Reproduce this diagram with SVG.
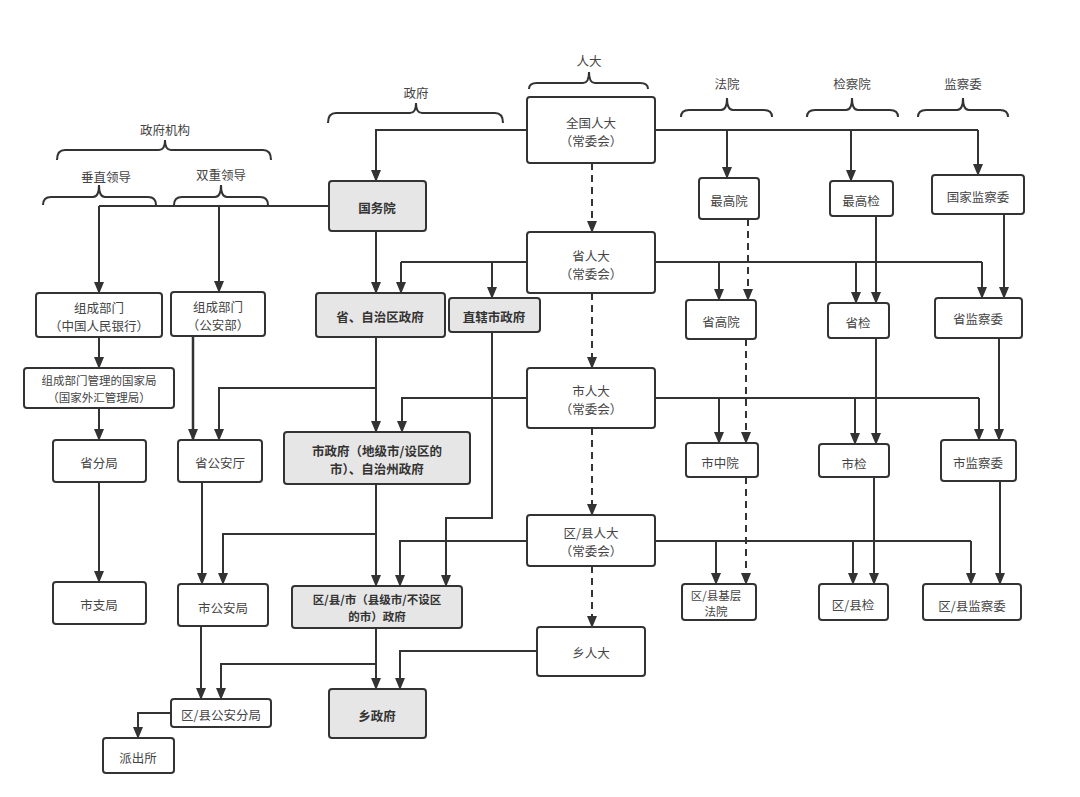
<svg xmlns="http://www.w3.org/2000/svg" width="1080" height="797" viewBox="0 0 1080 797">
<defs>
<marker id="ah" markerUnits="userSpaceOnUse" markerWidth="12" markerHeight="12" viewBox="0 0 12 12" refX="11" refY="6" orient="auto"><path d="M0,1 L12,6 L0,11 Z" fill="#333"/></marker>
</defs>
<style>
text{font-family:"Noto Sans CJK SC","Liberation Sans",sans-serif;font-size:12.5px;fill:#444;text-anchor:middle;dominant-baseline:central}
.s{font-size:11.5px}
.b{fill:#fff;stroke:#333;stroke-width:2}
.g{fill:#e6e6e6;stroke:#333;stroke-width:2}
.gt{font-weight:bold;fill:#333}
.c path{fill:none;stroke:#333;stroke-width:2}
.c path.a{marker-end:url(#ah)}
.c path.d{stroke-dasharray:7,5;marker-end:url(#ah)}
.br{fill:none;stroke:#333;stroke-width:2}
</style>
<rect width="1080" height="797" fill="#fff"/>
<g id="braces">
<path class="br" d="M57,160 Q57,150 65,150 L159,150 Q165,150 165,140 Q165,150 171,150 L263,150 Q271,150 271,160"/><text x="165" y="129">政府机构</text>
<path class="br" d="M43,205 Q43,197 51,197 L93,197 Q99,197 99,185 Q99,197 105,197 L148,197 Q156,197 156,205"/><text x="106" y="176">垂直领导</text>
<path class="br" d="M174,205 Q174,197 182,197 L215,197 Q221,197 221,185 Q221,197 227,197 L260,197 Q268,197 268,205"/><text x="221" y="174">双重领导</text>
<path class="br" d="M328,123 Q328,113 336,113 L410,113 Q416,113 416,103 Q416,113 422,113 L495,113 Q503,113 503,123"/><text x="416" y="92">政府</text>
<path class="br" d="M529,89 Q529,83 537,83 L583,83 Q589,83 589,72 Q589,83 595,83 L640,83 Q648,83 648,89"/><text x="589" y="60">人大</text>
<path class="br" d="M681,117 Q681,110 689,110 L721,110 Q727,110 727,98 Q727,110 733,110 L764,110 Q772,110 772,117"/><text x="727" y="83">法院</text>
<path class="br" d="M807,117 Q807,110 815,110 L846,110 Q852,110 852,98 Q852,110 858,110 L890,110 Q898,110 898,117"/><text x="852" y="83">检察院</text>
<path class="br" d="M918,117 Q918,110 926,110 L957,110 Q963,110 963,98 Q963,110 969,110 L1000,110 Q1008,110 1008,117"/><text x="963" y="83">监察委</text>
</g>
<g class="c" id="connectors">
<path class="a" d="M527,130 H376 V181"/>
<path d="M655,130 H978"/>
<path class="a" d="M727,130 V178"/><path class="a" d="M851,130 V181"/><path class="a" d="M978,130 V175"/>
<path class="d" d="M592,163 V232"/>
<path d="M329,206 H99"/>
<path class="a" d="M99,206 V293"/><path class="a" d="M219,206 V292"/>
<path class="a" d="M376,231 V293"/>
<path d="M527,262 H401"/><path class="a" d="M401,262 V293"/><path class="a" d="M492,262 V298"/>
<path d="M655,262 H982"/>
<path class="a" d="M719,262 V300"/><path class="a" d="M856,262 V303"/><path class="a" d="M982,262 V298"/>
<path class="d" d="M748,219 V300"/>
<path class="a" d="M876,216 V303"/>
<path class="a" d="M1004,214 V298"/>
<path class="d" d="M592,293 V368"/>
<path class="a" d="M99,337 V368"/>
<path class="a" d="M99,408 V440"/>
<path class="a" d="M193,336 V440" style="stroke-width:2.5"/>
<path class="a" d="M376,337 V432"/>
<path class="a" d="M376,388 H219 V440"/>
<path class="a" d="M527,398 H402 V432"/>
<path d="M655,398 H979"/>
<path class="a" d="M719,398 V443"/><path class="a" d="M855,398 V444"/><path class="a" d="M979,398 V440"/>
<path class="d" d="M746,339 V443"/>
<path class="a" d="M876,338 V444"/>
<path class="a" d="M999,338 V440"/>
<path class="d" d="M592,428 V515"/>
<path class="a" d="M492,332 V518 H446 V586"/>
<path class="a" d="M99,482 V582"/>
<path class="a" d="M202,482 V584"/>
<path class="a" d="M376,484 V586"/>
<path class="a" d="M376,534 H223 V584"/>
<path class="a" d="M527,541 H400 V586"/>
<path d="M655,541 H971"/>
<path class="a" d="M716,541 V584"/><path class="a" d="M853,541 V584"/><path class="a" d="M971,541 V584"/>
<path class="d" d="M746,477 V584"/>
<path class="a" d="M874,477 V584"/>
<path class="a" d="M1000,481 V584"/>
<path class="d" d="M592,566 V627"/>
<path class="a" d="M376,628 V689"/>
<path class="a" d="M376,664 H221 V699"/>
<path class="a" d="M537,651 H400 V689"/>
<path class="a" d="M201,626 V699"/>
<path class="a" d="M171,713 H138 V738"/>
</g>
<g id="n-qgrd"><rect class="b" x="527" y="97" width="128" height="66" rx="3"/><text x="591" y="122">全国人大</text><text x="591" y="140">（常委会）</text></g>
<g id="n-srd"><rect class="b" x="527" y="232" width="128" height="61" rx="3"/><text x="591" y="255">省人大</text><text x="591" y="273">（常委会）</text></g>
<g id="n-shird"><rect class="b" x="527" y="368" width="128" height="60" rx="3"/><text x="591" y="390">市人大</text><text x="591" y="408">（常委会）</text></g>
<g id="n-qxrd"><rect class="b" x="527" y="515" width="128" height="51" rx="3"/><text x="591" y="532">区/县人大</text><text x="591" y="550">（常委会）</text></g>
<g id="n-xrd"><rect class="b" x="537" y="627" width="108" height="49" rx="3"/><text x="591" y="652">乡人大</text></g>
<g id="n-gwy"><rect class="g" x="329" y="181" width="97" height="50" rx="3"/><text class="gt" x="377" y="207">国务院</text></g>
<g id="n-szf"><rect class="g" x="316" y="293" width="129" height="44" rx="3"/><text class="gt" x="380" y="316">省、自治区政府</text></g>
<g id="n-zxs"><rect class="g" x="449" y="298" width="91" height="34" rx="3"/><text class="gt" x="494" y="316">直辖市政府</text></g>
<g id="n-shizf"><rect class="g" x="284" y="432" width="186" height="52" rx="3"/><text class="gt" x="377" y="450">市政府（地级市/设区的</text><text class="gt" x="377" y="468">市）、自治州政府</text></g>
<g id="n-qxzf"><rect class="g" x="292" y="586" width="170" height="42" rx="3"/><text class="gt s" x="377" y="599">区/县/市（县级市/不设区</text><text class="gt s" x="377" y="616">的市）政府</text></g>
<g id="n-xzf"><rect class="g" x="329" y="689" width="97" height="49" rx="3"/><text class="gt" x="377" y="715">乡政府</text></g>
<g id="n-rmyh"><rect class="b" x="36" y="293" width="126" height="44" rx="3"/><text x="99" y="307">组成部门</text><text x="99" y="325">（中国人民银行）</text></g>
<g id="n-gab"><rect class="b" x="171" y="292" width="94" height="44" rx="3"/><text x="218" y="306">组成部门</text><text x="218" y="324">（公安部）</text></g>
<g id="n-gjj"><rect class="b" x="24" y="368" width="150" height="40" rx="3"/><text class="s" x="99" y="380">组成部门管理的国家局</text><text class="s" x="99" y="397">（国家外汇管理局）</text></g>
<g id="n-sfj"><rect class="b" x="53" y="440" width="93" height="42" rx="3"/><text x="99" y="462">省分局</text></g>
<g id="n-szj"><rect class="b" x="53" y="582" width="93" height="42" rx="3"/><text x="99" y="604">市支局</text></g>
<g id="n-sgat"><rect class="b" x="178" y="440" width="84" height="42" rx="3"/><text x="220" y="462">省公安厅</text></g>
<g id="n-sgaj"><rect class="b" x="178" y="584" width="90" height="42" rx="3"/><text x="223" y="607">市公安局</text></g>
<g id="n-qxga"><rect class="b" x="171" y="699" width="100" height="28" rx="3"/><text x="221" y="714">区/县公安分局</text></g>
<g id="n-pcs"><rect class="b" x="103" y="738" width="71" height="35" rx="3"/><text x="138" y="757">派出所</text></g>
<g id="n-zgy"><rect class="b" x="699" y="178" width="60" height="41" rx="3"/><text x="729" y="200">最高院</text></g>
<g id="n-sgy"><rect class="b" x="686" y="300" width="70" height="39" rx="3"/><text x="721" y="321">省高院</text></g>
<g id="n-szy"><rect class="b" x="686" y="443" width="72" height="34" rx="3"/><text x="720" y="462">市中院</text></g>
<g id="n-jcfy"><rect class="b" x="682" y="584" width="74" height="36" rx="3"/><text class="s" x="716" y="595">区/县基层</text><text class="s" x="716" y="611">法院</text></g>
<g id="n-zgj"><rect class="b" x="830" y="181" width="63" height="35" rx="3"/><text x="861" y="200">最高检</text></g>
<g id="n-sj"><rect class="b" x="828" y="303" width="61" height="35" rx="3"/><text x="858" y="322">省检</text></g>
<g id="n-shij"><rect class="b" x="819" y="444" width="70" height="33" rx="3"/><text x="854" y="463">市检</text></g>
<g id="n-qxj"><rect class="b" x="819" y="584" width="69" height="36" rx="3"/><text x="853" y="604">区/县检</text></g>
<g id="n-gjjcw"><rect class="b" x="932" y="175" width="92" height="39" rx="3"/><text x="978" y="196">国家监察委</text></g>
<g id="n-sjcw"><rect class="b" x="935" y="298" width="87" height="40" rx="3"/><text x="978" y="318">省监察委</text></g>
<g id="n-shijcw"><rect class="b" x="941" y="440" width="75" height="41" rx="3"/><text x="978" y="462">市监察委</text></g>
<g id="n-qxjcw"><rect class="b" x="923" y="584" width="98" height="36" rx="3"/><text x="972" y="605">区/县监察委</text></g>
</svg>
